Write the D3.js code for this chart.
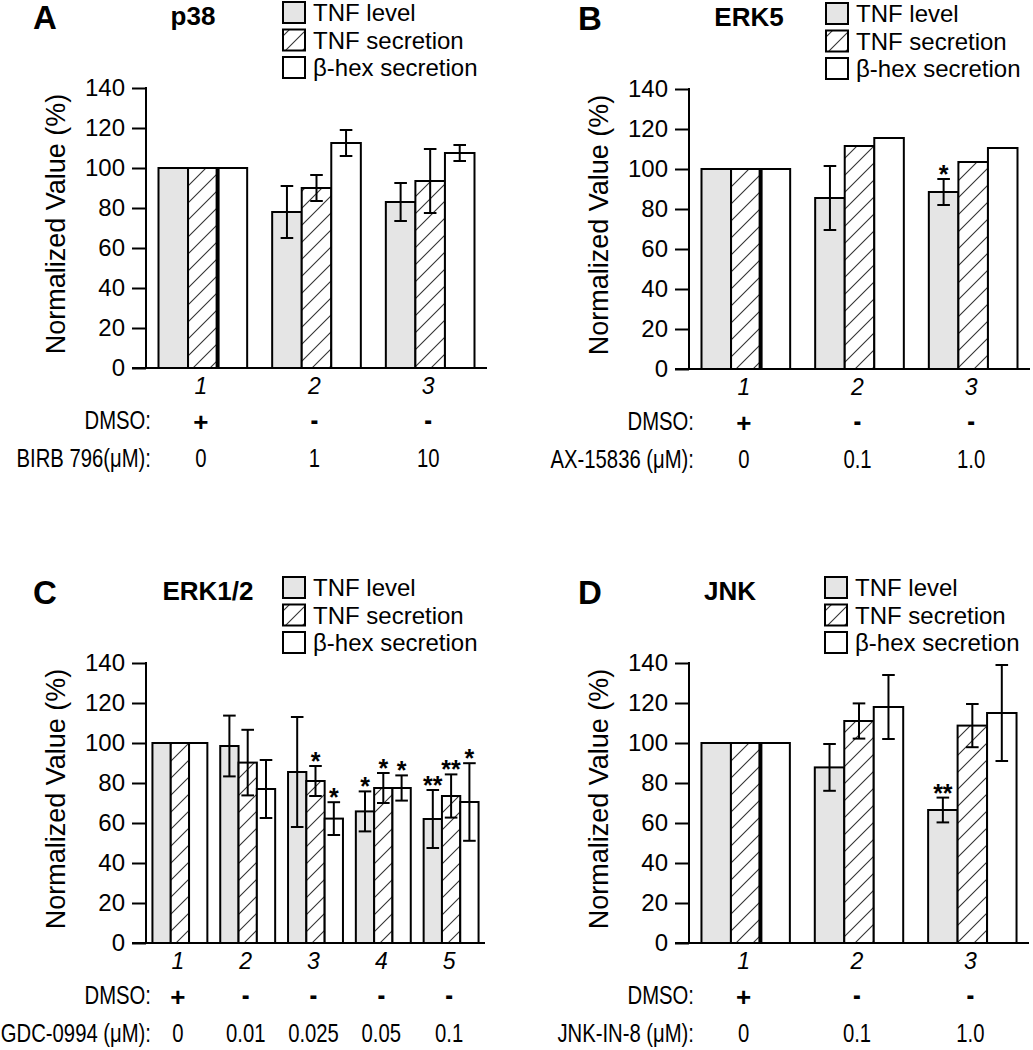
<!DOCTYPE html>
<html>
<head>
<meta charset="utf-8">
<script src="https://cdn.jsdelivr.net/npm/d3@7/dist/d3.min.js"></script>
<style>
  html, body { margin: 0; padding: 0; background: #fff; }
  svg { display: block; }
  text { font-family: "Liberation Sans", Arial, Helvetica, sans-serif; fill: #000; }
</style>
</head>
<body>
<svg id="chart" width="1033" height="1050"></svg>
<script>
// ---------------- DATA ----------------
const seriesNames = ["TNF level", "TNF secretion", "β-hex secretion"];
const yTicks = [0, 20, 40, 60, 80, 100, 120, 140];

// Panel A: p38
const A_groups = ["1", "2", "3"];
const A_dmso = ["+", "-", "-"];
const A_dose = ["0", "1", "10"];
const A_level = [100, 78, 83];
const A_levelErr = [0, 13, 9.5];
const A_secretion = [100, 90, 93.5];
const A_secretionErr = [0, 6.5, 16];
const A_hex = [100, 112.5, 107.5];
const A_hexErr = [0, 6.5, 4];
const A_levelStars = ["", "", ""];
const A_secretionStars = ["", "", ""];
const A_hexStars = ["", "", ""];

// Panel B: ERK5
const B_groups = ["1", "2", "3"];
const B_dmso = ["+", "-", "-"];
const B_dose = ["0", "0.1", "1.0"];
const B_level = [100, 85.5, 88.5];
const B_levelErr = [0, 16, 6.5];
const B_secretion = [100, 111.5, 103.5];
const B_secretionErr = [0, 0, 0];
const B_hex = [100, 115.5, 110.5];
const B_hexErr = [0, 0, 0];
const B_levelStars = ["", "", "*"];
const B_secretionStars = ["", "", ""];
const B_hexStars = ["", "", ""];

// Panel C: ERK1/2
const C_groups = ["1", "2", "3", "4", "5"];
const C_dmso = ["+", "-", "-", "-", "-"];
const C_dose = ["0", "0.01", "0.025", "0.05", "0.1"];
const C_level = [100, 98.5, 85.5, 65.8, 62];
const C_levelErr = [0, 15.2, 27.5, 10, 14.5];
const C_secretion = [100, 90.2, 81, 77.5, 73.5];
const C_secretionErr = [0, 16.4, 7.5, 7.5, 10.8];
const C_hex = [100, 77, 62.2, 77.5, 70.5];
const C_hexErr = [0, 14.5, 8.2, 6.3, 19.4];
const C_levelStars = ["", "", "", "*", "**"];
const C_secretionStars = ["", "", "*", "*", "**"];
const C_hexStars = ["", "", "*", "*", "*"];

// Panel D: JNK
const D_groups = ["1", "2", "3"];
const D_dmso = ["+", "-", "-"];
const D_dose = ["0", "0.1", "1.0"];
const D_level = [100, 87.8, 66.5];
const D_levelErr = [0, 11.7, 6.2];
const D_secretion = [100, 111, 108.7];
const D_secretionErr = [0, 8.8, 10.8];
const D_hex = [100, 118, 115];
const D_hexErr = [0, 16, 24];
const D_levelStars = ["", "", "**"];
const D_secretionStars = ["", "", ""];
const D_hexStars = ["", "", ""];

// ---------------- DRAWING ----------------
const svg = d3.select("#chart");
const defs = svg.append("defs");
const hatch = defs.append("pattern")
  .attr("id", "hatch")
  .attr("patternUnits", "userSpaceOnUse")
  .attr("width", 17).attr("height", 17);
hatch.append("rect").attr("width", 17).attr("height", 17).attr("fill", "#fff");
hatch.append("path")
  .attr("d", "M-2,19 L19,-2 M-2,2 L2,-2 M15,19 L19,15")
  .attr("stroke", "#333").attr("stroke-width", 1.1);

const fills = ["#e5e5e5", "url(#hatch)", "#ffffff"];
const FONT_NARROW = 0.78;

function narrowText(g, x, y, str, anchor, size, bold, sx) {
  g.append("text")
    .attr("transform", `translate(${x},${y}) scale(${sx || FONT_NARROW},1)`)
    .attr("text-anchor", anchor)
    .style("font-size", size + "px")
    .style("font-weight", bold ? "bold" : "normal")
    .text(str);
}

function drawPanel(cfg) {
  const g = svg.append("g").attr("transform", `translate(${cfg.ox},${cfg.oy})`);
  const axL = 146, axR = cfg.axR, y0px = 368, ytop = 88;

  const y = d3.scaleLinear().domain([0, 140]).range([y0px, ytop]);
  const x0 = d3.scaleBand().domain(cfg.groups).range([axL, axR]).padding(0);
  const step = x0.bandwidth();
  const gw = step * cfg.fillFrac;
  const x1 = d3.scaleBand().domain(seriesNames).range([(step - gw) / 2, (step + gw) / 2]).padding(0);

  const series = [
    { vals: cfg.level, errs: cfg.levelErr, stars: cfg.levelStars },
    { vals: cfg.secretion, errs: cfg.secretionErr, stars: cfg.secretionStars },
    { vals: cfg.hex, errs: cfg.hexErr, stars: cfg.hexStars }
  ];

  // bars
  cfg.groups.forEach((grp, gi) => {
    series.forEach((s, si) => {
      const bx = x0(grp) + x1(seriesNames[si]);
      g.append("rect")
        .attr("x", bx).attr("y", y(s.vals[gi]))
        .attr("width", x1.bandwidth())
        .attr("height", y(0) - y(s.vals[gi]))
        .attr("fill", fills[si])
        .attr("stroke", "#000").attr("stroke-width", 2);
    });
  });

  // thick divider artifact in group 1
  if (cfg.thickDivider) {
    const gx = x0(cfg.groups[0]) + x1(seriesNames[2]);
    g.append("line")
      .attr("x1", gx).attr("x2", gx)
      .attr("y1", y(cfg.secretion[0])).attr("y2", y(0))
      .attr("stroke", "#000").attr("stroke-width", 4);
  }

  // error bars + stars
  const cap = 6.3;
  cfg.groups.forEach((grp, gi) => {
    series.forEach((s, si) => {
      const cx = x0(grp) + x1(seriesNames[si]) + x1.bandwidth() / 2;
      const v = s.vals[gi], e = s.errs[gi];
      if (e > 0) {
        const eg = g.append("g").attr("stroke", "#000").attr("stroke-width", 2);
        eg.append("line").attr("x1", cx).attr("x2", cx).attr("y1", y(v + e)).attr("y2", y(v - e));
        eg.append("line").attr("x1", cx - cap).attr("x2", cx + cap).attr("y1", y(v + e)).attr("y2", y(v + e));
        eg.append("line").attr("x1", cx - cap).attr("x2", cx + cap).attr("y1", y(v - e)).attr("y2", y(v - e));
      }
      if (s.stars[gi]) {
        g.append("text")
          .attr("x", cx).attr("y", y(v + e) + 4)
          .attr("text-anchor", "middle")
          .style("font-size", "25px").style("font-weight", "bold")
          .text(s.stars[gi]);
      }
    });
  });

  // axes
  const yAxis = d3.axisLeft(y).tickValues(yTicks).tickSize(14).tickPadding(7);
  const ya = g.append("g").attr("transform", `translate(${axL},0)`).call(yAxis);
  ya.select(".domain").remove();
  ya.selectAll(".tick line").attr("stroke", "#000").attr("stroke-width", 2);
  ya.selectAll(".tick text").style("font-size", "24px").style("font-family", "'Liberation Sans', Arial, sans-serif").attr("fill", "#000");
  g.append("line").attr("x1", axL).attr("x2", axL).attr("y1", y(140) - 1).attr("y2", y(0) + 1)
    .attr("stroke", "#000").attr("stroke-width", 2);
  g.append("line").attr("x1", axL - 14).attr("x2", axR).attr("y1", y(0)).attr("y2", y(0))
    .attr("stroke", "#000").attr("stroke-width", 2);

  // y label
  g.append("text")
    .attr("transform", `translate(${axL - 81},${(y(0) + y(140)) / 2 - 4}) rotate(-90)`)
    .attr("text-anchor", "middle")
    .style("font-size", "27px")
    .text("Normalized Value (%)");

  // group numbers
  cfg.groups.forEach(grp => {
    g.append("text")
      .attr("x", x0(grp) + step / 2 - 2).attr("y", 394)
      .attr("text-anchor", "middle")
      .style("font-size", "23px").style("font-style", "italic")
      .text(grp);
  });

  // DMSO row and dose row
  narrowText(g, axL + 5, 429, "DMSO:", "end", 26, false);
  narrowText(g, axL + 5, 467, cfg.doseLabel, "end", 26, false);
  cfg.groups.forEach((grp, gi) => {
    const cx = x0(grp) + step / 2 - 2;
    const sym = cfg.dmso[gi];
    if (sym === "+") narrowText(g, cx, 431, sym, "middle", 26, true, 1);
    else narrowText(g, cx, 430, sym, "middle", 30, true);
    narrowText(g, cx, 467, cfg.dose[gi], "middle", 26, false);
  });

  // panel letter and title
  g.append("text").attr("x", cfg.letterX).attr("y", 29)
    .style("font-size", "33px").style("font-weight", "bold").text(cfg.letter);
  g.append("text").attr("x", cfg.titleX).attr("y", 25)
    .attr("text-anchor", "middle")
    .style("font-size", "26px").style("font-weight", "bold").text(cfg.title);

  // legend
  const lg = g.append("g").attr("transform", `translate(${cfg.legX},2)`);
  seriesNames.forEach((name, i) => {
    lg.append("rect").attr("x", 0).attr("y", i * 27.5).attr("width", 22).attr("height", 21)
      .attr("fill", fills[i]).attr("stroke", "#000").attr("stroke-width", 2);
    lg.append("text").attr("x", 30).attr("y", i * 27.5 + 19)
      .style("font-size", "24px").text(name);
  });
}

drawPanel({
  ox: 0, oy: 0, axR: 487, fillFrac: 0.78, groups: A_groups, dmso: A_dmso, dose: A_dose,
  doseLabel: "BIRB 796(μM):", letter: "A", letterX: 33, title: "p38", titleX: 193, legX: 283,
  thickDivider: true,
  level: A_level, levelErr: A_levelErr, secretion: A_secretion, secretionErr: A_secretionErr,
  hex: A_hex, hexErr: A_hexErr, levelStars: A_levelStars, secretionStars: A_secretionStars, hexStars: A_hexStars
});
drawPanel({
  ox: 543, oy: 1, axR: 487, fillFrac: 0.78, groups: B_groups, dmso: B_dmso, dose: B_dose,
  doseLabel: "AX-15836 (μM):", letter: "B", letterX: 35, title: "ERK5", titleX: 206, legX: 283,
  thickDivider: true,
  level: B_level, levelErr: B_levelErr, secretion: B_secretion, secretionErr: B_secretionErr,
  hex: B_hex, hexErr: B_hexErr, levelStars: B_levelStars, secretionStars: B_secretionStars, hexStars: B_hexStars
});
drawPanel({
  ox: 0, oy: 575, axR: 485, fillFrac: 0.81, groups: C_groups, dmso: C_dmso, dose: C_dose,
  doseLabel: "GDC-0994 (μM):", letter: "C", letterX: 33, title: "ERK1/2", titleX: 208, legX: 283,
  thickDivider: false,
  level: C_level, levelErr: C_levelErr, secretion: C_secretion, secretionErr: C_secretionErr,
  hex: C_hex, hexErr: C_hexErr, levelStars: C_levelStars, secretionStars: C_secretionStars, hexStars: C_hexStars
});
drawPanel({
  ox: 543, oy: 575, axR: 486, fillFrac: 0.78, groups: D_groups, dmso: D_dmso, dose: D_dose,
  doseLabel: "JNK-IN-8 (μM):", letter: "D", letterX: 35, title: "JNK", titleX: 187, legX: 282,
  thickDivider: true,
  level: D_level, levelErr: D_levelErr, secretion: D_secretion, secretionErr: D_secretionErr,
  hex: D_hex, hexErr: D_hexErr, levelStars: D_levelStars, secretionStars: D_secretionStars, hexStars: D_hexStars
});
</script>
</body>
</html>
